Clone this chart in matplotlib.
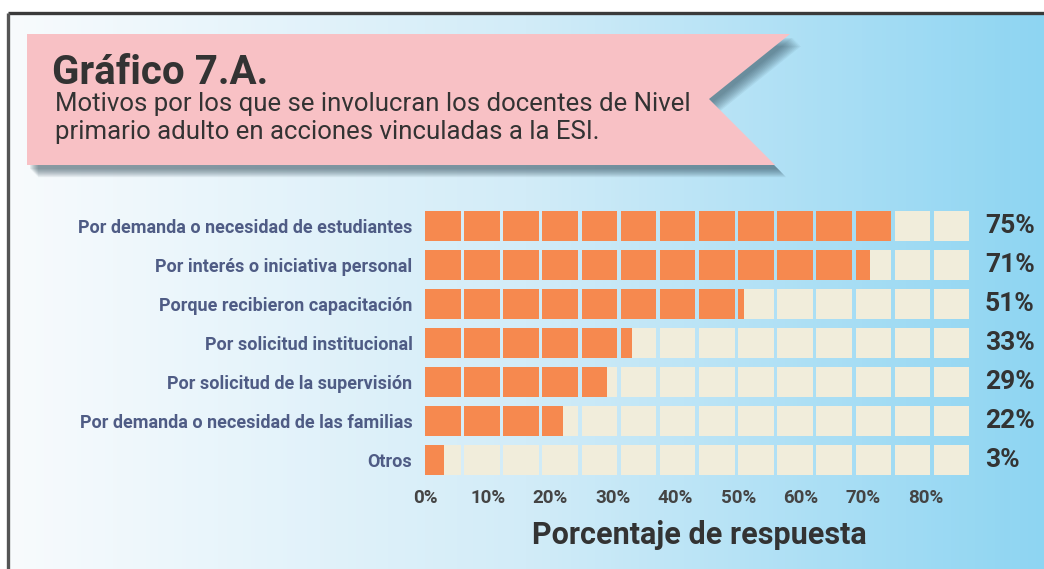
import numpy as np
import matplotlib
matplotlib.use("Agg")
import matplotlib.pyplot as plt
import matplotlib.transforms as mtransforms
from matplotlib.colors import LinearSegmentedColormap
from matplotlib.patches import Polygon

plt.rcParams["font.family"] = ["Roboto", "DejaVu Sans"]

# data
categories = [
    "Por demanda o necesidad de estudiantes",
    "Por interés o iniciativa personal",
    "Porque recibieron capacitación",
    "Por solicitud institucional",
    "Por solicitud de la supervisión",
    "Por demanda o necesidad de las familias",
    "Otros",
]
values = [75, 71, 51, 33, 29, 22, 3]
ticks = [0, 10, 20, 30, 40, 50, 60, 70, 80]
title = "Gráfico 7.A."
subtitle = ["Motivos por los que se involucran los docentes de Nivel",
            "primario adulto en acciones vinculadas a la ESI."]
xlabel = "Porcentaje de respuesta"

W, H = 1044, 569
fig = plt.figure(figsize=(W / 100, H / 100), dpi=100)

# background layer in pixel coordinates
bg = fig.add_axes([0, 0, 1, 1])
bg.set_xlim(0, W)
bg.set_ylim(H, 0)
bg.axis("off")
grad = LinearSegmentedColormap.from_list("bg", ["#f8fbfd", "#d2ecf8", "#8ed5f2"])
bg.imshow(np.linspace(0, 1, 256)[None, :], cmap=grad, aspect="auto",
          extent=(8, W, H, 13), zorder=0)
bg.plot([8, W], [13, 13], color="#3a3a3a", lw=2.4, zorder=5, solid_capstyle="butt")
bg.plot([8, 8], [13, H], color="#555555", lw=2.4, zorder=5, solid_capstyle="butt")

# banner with soft shadow
banner = np.array([[27, 34], [790, 34], [709, 99], [775, 165], [27, 165]])
for k in range(10):
    off = np.array([3 + k * 0.9, 4 + k * 0.9])
    bg.add_patch(Polygon(banner + off, closed=True, color="#2b4654",
                         alpha=0.07, lw=0, zorder=1))
bg.add_patch(Polygon(banner, closed=True, color="#f8c1c5", lw=0, zorder=2))
bg.text(52, 84, title, fontsize=29, fontweight="bold", color="#333333",
        va="baseline", zorder=3)
bg.text(55, 111, subtitle[0], fontsize=18.5, color="#333333", va="baseline", zorder=3)
bg.text(55, 139, subtitle[1], fontsize=18.5, color="#333333", va="baseline", zorder=3)

# chart
pitch = 6.25
ncell = 14
cell_w = pitch * 35.5 / 39
ax = fig.add_axes([425 / W, 1 - 479.5 / H, 548 / W, 273 / H])
ax.set_facecolor("none")
y = np.arange(len(categories))
for i in range(ncell):
    left = i * pitch
    ax.barh(y, cell_w, left=left, height=0.77, color="#f1eddb", lw=0, zorder=1)
    fill = np.clip(np.array(values, dtype=float) - left, 0, cell_w)
    ax.barh(y, fill, left=left, height=0.77, color="#f6894f", lw=0, zorder=2)

ax.set_xlim(0, pitch * ncell)
ax.set_ylim(len(categories) - 0.5, -0.5)
ax.set_yticks(y)
ax.set_yticklabels(categories, fontsize=13, fontweight="bold", color="#4f5c85")
ax.set_xticks(ticks)
ax.set_xticklabels([f"{t}%" for t in ticks], fontsize=13.5, fontweight="bold",
                   color="#444444")
ax.tick_params(axis="both", length=0)
ax.tick_params(axis="y", pad=9)
ax.tick_params(axis="x", pad=7)
for s in ax.spines.values():
    s.set_visible(False)
ax.set_xlabel(xlabel, fontsize=22, fontweight="bold", color="#333333", labelpad=9)

trans = mtransforms.blended_transform_factory(ax.transAxes, ax.transData)
for yi, v in zip(y, values):
    ax.text(1.022, yi, f"{v}%", transform=trans, fontsize=19, fontweight="bold",
            color="#333333", va="center", ha="left")

fig.savefig("out.png", dpi=100)
